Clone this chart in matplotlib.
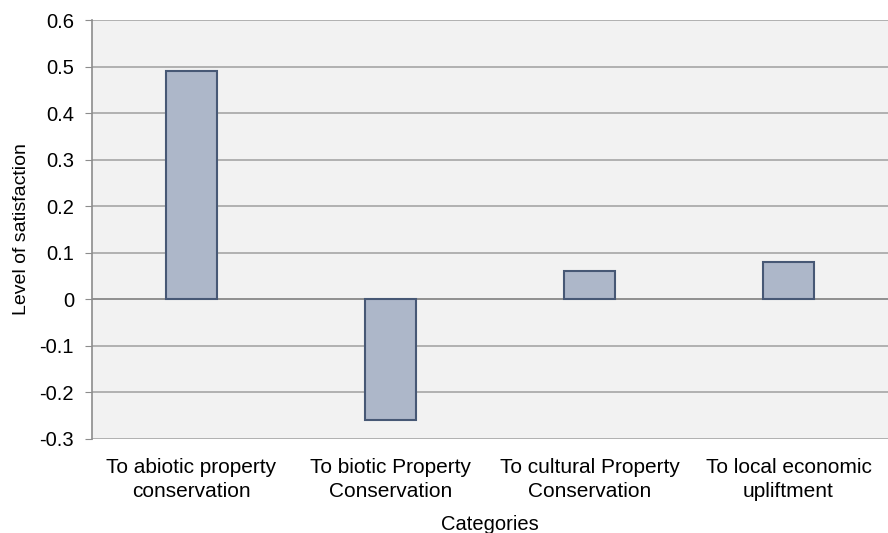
import matplotlib
matplotlib.use("Agg")
import matplotlib.pyplot as plt
import numpy as np

categories = [
    "To abiotic property\nconservation",
    "To biotic Property\nConservation",
    "To cultural Property\nConservation",
    "To local economic\nupliftment",
]
satisfaction = [0.49, -0.26, 0.06, 0.08]
yticks = [-0.3, -0.2, -0.1, 0, 0.1, 0.2, 0.3, 0.4, 0.5, 0.6]

plt.rcParams["font.family"] = ["Liberation Sans", "DejaVu Sans"]

fig = plt.figure(figsize=(8.88, 5.33), dpi=100)
ax = fig.add_axes([92 / 888, 94 / 533, 796 / 888, 419 / 533])
ax.set_facecolor("#f2f2f2")

x = np.arange(len(categories))
ax.bar(x, satisfaction, width=0.26, color="#adb7c9", edgecolor="#475875",
       linewidth=1.5, zorder=3)

ax.set_xlim(-0.5, len(categories) - 0.5)
ax.set_ylim(-0.3, 0.6)
ax.set_yticks(yticks)
ax.set_yticklabels(["0" if v == 0 else f"{v:.1f}" for v in yticks])
ax.yaxis.grid(True, color="#a6a6a6", linewidth=1.2, zorder=1)
ax.axhline(0, color="#8c8c8c", linewidth=1.2, zorder=2)

ax.set_xticks(x)
ax.set_xticklabels(categories, fontsize=15, linespacing=1.3)
ax.tick_params(axis="x", length=0, pad=14)
ax.tick_params(axis="y", length=5, color="#8c8c8c", labelsize=14.5, pad=8)

for side in ("top", "right", "bottom"):
    ax.spines[side].set_visible(False)
ax.spines["left"].set_color("#8c8c8c")
ax.spines["left"].set_linewidth(1.2)

ax.set_xlabel("Categories", fontsize=14.5, labelpad=10)
ax.set_ylabel("Level of satisfaction", fontsize=14, labelpad=7)

fig.savefig("out.png", dpi=100)
